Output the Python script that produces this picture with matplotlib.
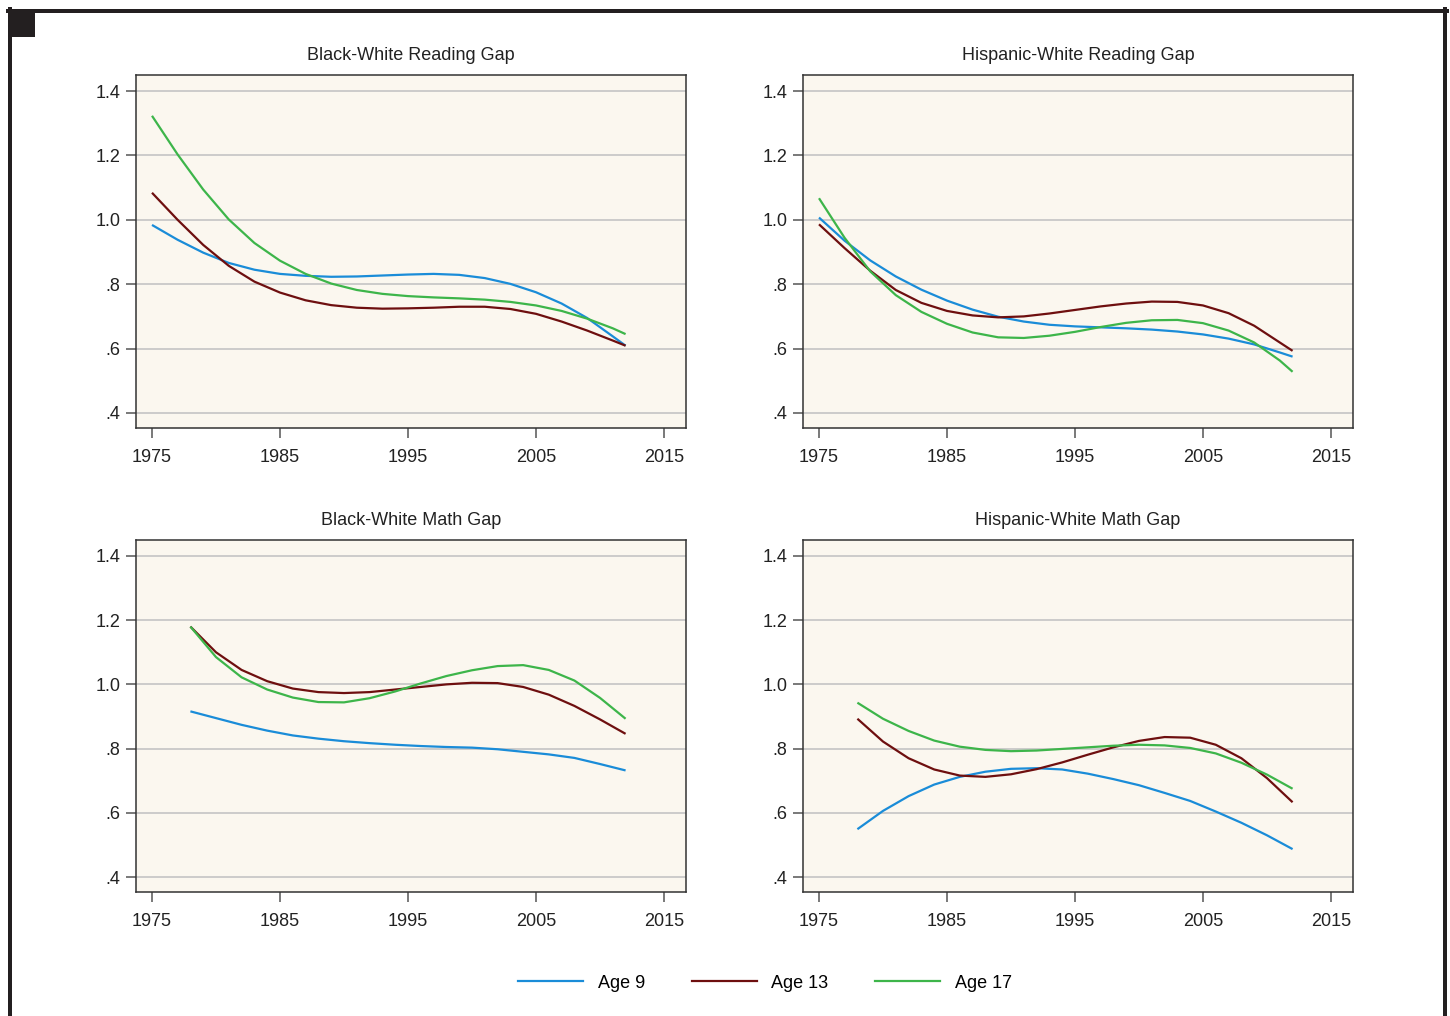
import matplotlib
matplotlib.use("Agg")
import matplotlib.pyplot as plt
from matplotlib.lines import Line2D
from matplotlib.patches import Rectangle

plt.rcParams['font.family'] = ['Liberation Sans', 'DejaVu Sans']

# ---------------- data ----------------
titles = ["Black-White Reading Gap", "Hispanic-White Reading Gap",
          "Black-White Math Gap", "Hispanic-White Math Gap"]
series_labels = ["Age 9", "Age 13", "Age 17"]

years_reading = [1975, 1977, 1979, 1981, 1983, 1985, 1987, 1989, 1991, 1993,
                 1995, 1997, 1999, 2001, 2003, 2005, 2007, 2009, 2011, 2012]
years_math = [1978, 1980, 1982, 1984, 1986, 1988, 1990, 1992, 1994, 1996,
              1998, 2000, 2002, 2004, 2006, 2008, 2010, 2012]

bw_read_age9 = [0.984, 0.938, 0.898, 0.866, 0.845, 0.832, 0.826, 0.823, 0.824, 0.827,
                0.830, 0.832, 0.829, 0.819, 0.801, 0.775, 0.740, 0.695, 0.638, 0.609]
bw_read_age13 = [1.084, 1.000, 0.922, 0.857, 0.808, 0.774, 0.750, 0.735, 0.727, 0.724,
                 0.725, 0.727, 0.730, 0.730, 0.723, 0.708, 0.684, 0.656, 0.625, 0.609]
bw_read_age17 = [1.323, 1.203, 1.094, 1.001, 0.928, 0.873, 0.832, 0.802, 0.782, 0.770,
                 0.763, 0.759, 0.756, 0.752, 0.745, 0.734, 0.717, 0.693, 0.663, 0.645]

hw_read_age9 = [1.007, 0.935, 0.874, 0.824, 0.783, 0.749, 0.721, 0.699, 0.684, 0.674,
                0.669, 0.666, 0.663, 0.659, 0.653, 0.644, 0.631, 0.613, 0.588, 0.575]
hw_read_age13 = [0.986, 0.912, 0.842, 0.782, 0.742, 0.717, 0.703, 0.697, 0.700, 0.709,
                 0.720, 0.731, 0.740, 0.746, 0.745, 0.734, 0.710, 0.671, 0.619, 0.593]
hw_read_age17 = [1.067, 0.944, 0.840, 0.766, 0.714, 0.677, 0.650, 0.635, 0.633, 0.640,
                 0.652, 0.667, 0.680, 0.688, 0.689, 0.679, 0.656, 0.619, 0.563, 0.528]

bw_math_age9 = [0.916, 0.895, 0.874, 0.856, 0.841, 0.831, 0.823, 0.817, 0.812, 0.808,
                0.805, 0.803, 0.798, 0.790, 0.782, 0.771, 0.752, 0.732]
bw_math_age13 = [1.180, 1.100, 1.045, 1.010, 0.987, 0.976, 0.973, 0.976, 0.984, 0.992,
                 1.000, 1.005, 1.004, 0.992, 0.968, 0.933, 0.891, 0.846]
bw_math_age17 = [1.180, 1.085, 1.022, 0.984, 0.959, 0.945, 0.944, 0.957, 0.978, 1.003,
                 1.026, 1.044, 1.057, 1.060, 1.045, 1.012, 0.958, 0.893]

hw_math_age9 = [0.549, 0.606, 0.652, 0.688, 0.712, 0.728, 0.737, 0.739, 0.735, 0.722,
                0.705, 0.686, 0.662, 0.637, 0.604, 0.569, 0.530, 0.487]
hw_math_age13 = [0.893, 0.822, 0.770, 0.735, 0.716, 0.712, 0.720, 0.736, 0.757, 0.781,
                 0.804, 0.824, 0.836, 0.834, 0.812, 0.770, 0.708, 0.633]
hw_math_age17 = [0.943, 0.893, 0.855, 0.825, 0.806, 0.796, 0.792, 0.794, 0.799, 0.804,
                 0.809, 0.812, 0.810, 0.802, 0.785, 0.756, 0.719, 0.675]

x_ticks = [1975, 1985, 1995, 2005, 2015]
y_ticks = [0.4, 0.6, 0.8, 1.0, 1.2, 1.4]
y_tick_labels = [".4", ".6", ".8", "1.0", "1.2", "1.4"]

panels = [
    (years_reading, [bw_read_age9, bw_read_age13, bw_read_age17]),
    (years_reading, [hw_read_age9, hw_read_age13, hw_read_age17]),
    (years_math, [bw_math_age9, bw_math_age13, bw_math_age17]),
    (years_math, [hw_math_age9, hw_math_age13, hw_math_age17]),
]

# ---------------- style ----------------
colors = ["#1a8cd8", "#6e0f0f", "#3db54a"]
bg = "#fbf7ef"
grid_c = "#c4c4c4"
dark = "#231f20"

W, H = 1450, 1016
fig = plt.figure(figsize=(W / 100, H / 100), dpi=100)
fig.patch.set_facecolor("white")

def fx(px):
    return px / W

def fy(py):
    return 1 - py / H

boxes = [
    (136, 75, 686, 428),
    (803, 75, 1353, 428),
    (136, 540, 686, 892),
    (803, 540, 1353, 892),
]

for (x0, y0, x1, y1), title, (yrs, vals) in zip(boxes, titles, panels):
    ax = fig.add_axes([fx(x0), fy(y1), fx(x1) - fx(x0), fy(y0) - fy(y1)])
    ax.set_facecolor(bg)
    for v in y_ticks:
        ax.axhline(v, color=grid_c, lw=1.2, zorder=1)
    for v, c in zip(vals, colors):
        ax.plot(yrs, v, color=c, lw=1.6, zorder=3, solid_capstyle="butt",
                solid_joinstyle="round")
    ax.set_xlim(1973.75, 2016.72)
    ax.set_ylim(0.3534, 1.4497)
    ax.set_xticks(x_ticks)
    ax.set_xticklabels([str(t) for t in x_ticks])
    ax.set_yticks(y_ticks)
    ax.set_yticklabels(y_tick_labels)
    ax.tick_params(axis="both", direction="out", length=7, width=1.1,
                   color="#555555", labelsize=13, labelcolor="#222222")
    ax.tick_params(axis="x", pad=8)
    ax.tick_params(axis="y", pad=4)
    for s in ax.spines.values():
        s.set_color("#333333")
        s.set_linewidth(1.1)
    ax.set_title(title, fontsize=13, color="#222222", pad=11)

# legend
handles = [Line2D([0], [0], color=c, lw=1.6) for c in colors]
fig.legend(handles, series_labels, loc="center", ncol=3,
           bbox_to_anchor=(fx(765), fy(983)), frameon=False, fontsize=13,
           handlelength=3.6, handletextpad=0.8, columnspacing=2.6)

# outer frame
lw_pt = 4 * 0.72
fig.add_artist(Line2D([fx(10), fx(10)], [fy(9), fy(1016)], color=dark, lw=lw_pt,
                      transform=fig.transFigure))
fig.add_artist(Line2D([fx(8), fx(1447)], [fy(11), fy(11)], color=dark, lw=lw_pt,
                      transform=fig.transFigure))
fig.add_artist(Line2D([fx(1445), fx(1445)], [fy(9), fy(1016)], color=dark, lw=lw_pt,
                      transform=fig.transFigure))
fig.add_artist(Rectangle((fx(8), fy(37)), fx(35) - fx(8), fy(9) - fy(37),
                         facecolor=dark, edgecolor="none", transform=fig.transFigure))

fig.savefig("out.png", dpi=100, facecolor="white")
